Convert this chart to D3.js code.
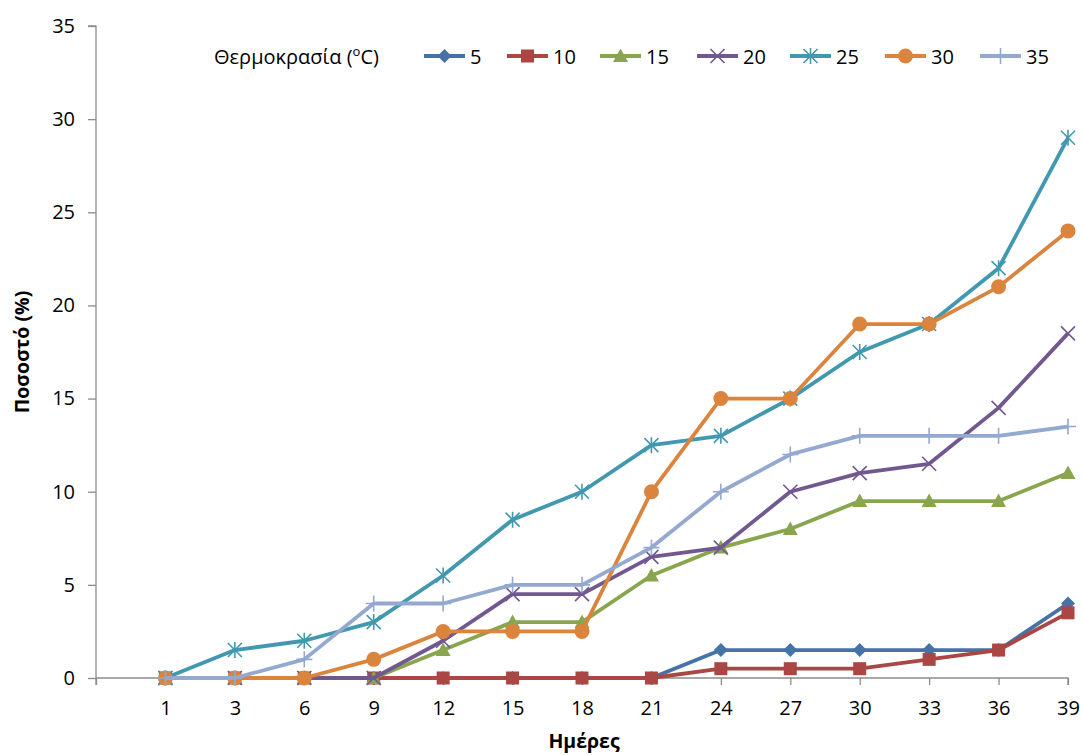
<!DOCTYPE html>
<meta charset="utf-8">
<style>
body { margin: 0; background: #fff; }
svg text { font-family: "Open Sans", "Noto Sans", sans-serif; fill: #000; }
.tick text { font-size: 20px; }
.axis-title { font-size: 19.5px; font-weight: bold; }
.legend text { font-size: 20px; }
</style>
<svg width="1083" height="755"></svg>
<script src="https://d3js.org/d3.v7.min.js"></script>
<script>

// Data
var days = ["1", "3", "6", "9", "12", "15", "18", "21", "24", "27", "30", "33", "36", "39"];
var temps = ["5", "10", "15", "20", "25", "30", "35"];

var t5  = [0, 0, 0, 0, 0, 0, 0, 0, 1.5, 1.5, 1.5, 1.5, 1.5, 4];
var t10 = [0, 0, 0, 0, 0, 0, 0, 0, 0.5, 0.5, 0.5, 1, 1.5, 3.5];
var t15 = [0, 0, 0, 0, 1.5, 3, 3, 5.5, 7, 8, 9.5, 9.5, 9.5, 11];
var t20 = [0, 0, 0, 0, 2, 4.5, 4.5, 6.5, 7, 10, 11, 11.5, 14.5, 18.5];
var t25 = [0, 1.5, 2, 3, 5.5, 8.5, 10, 12.5, 13, 15, 17.5, 19, 22, 29];
var t30 = [0, 0, 0, 1, 2.5, 2.5, 2.5, 10, 15, 15, 19, 19, 21, 24];
var t35 = [0, 0, 1, 4, 4, 5, 5, 7, 10, 12, 13, 13, 13, 13.5];

var yTicks = [0, 5, 10, 15, 20, 25, 30, 35];

var colors = ["#4572A7", "#AA4643", "#89A54E", "#71588F", "#4198AF", "#DB843D", "#93A9CF"];
var shapes = ["diamond", "square", "triangle", "x", "star", "circle", "plus"];

var series = [t5, t10, t15, t20, t25, t30, t35].map(function (vals, i) {
  return { name: temps[i], color: colors[i], shape: shapes[i],
    values: vals.map(function (v, j) { return { day: days[j], value: v }; }) };
});

var svg = d3.select("svg");

// Scales (blank first category sits on the y axis)
var x = d3.scalePoint()
    .domain([""].concat(days))
    .range([96, 1068]);

var y = d3.scaleLinear()
    .domain([0, 35])
    .range([678, 26]);

// Axes
var yAxis = svg.append("g")
    .attr("transform", "translate(96,0)")
    .call(d3.axisLeft(y).tickValues(yTicks).tickSize(8).tickPadding(13));

var xAxis = svg.append("g")
    .attr("transform", "translate(0,678)")
    .call(d3.axisBottom(x).tickSize(7).tickPadding(16));

[xAxis, yAxis].forEach(function (g) {
  g.select(".domain").attr("stroke", "#8c8c8c").attr("stroke-width", 1.3);
  g.selectAll(".tick line").attr("stroke", "#8c8c8c").attr("stroke-width", 1.3);
});
yAxis.select(".domain").attr("d", "M-8,26H0V685");
xAxis.select(".domain").attr("d", "M96,0H1068V7");

// Axis titles
svg.append("text")
    .attr("class", "axis-title")
    .attr("transform", "translate(29,352) rotate(-90)")
    .attr("text-anchor", "middle")
    .text("Ποσοστό (%)");

svg.append("text")
    .attr("class", "axis-title")
    .attr("x", 584)
    .attr("y", 748)
    .attr("text-anchor", "middle")
    .text("Ημέρες");

// Marker drawing
function drawMarker(sel, shape, color) {
  if (shape === "diamond") {
    sel.append("path").attr("d", "M0,-7L7,0L0,7L-7,0Z").attr("fill", color);
  } else if (shape === "square") {
    sel.append("rect").attr("x", -6.5).attr("y", -6.5).attr("width", 13).attr("height", 13).attr("fill", color);
  } else if (shape === "triangle") {
    sel.append("path").attr("d", "M0,-7.5L7.5,6L-7.5,6Z").attr("fill", color);
  } else if (shape === "x") {
    sel.append("path").attr("d", "M-7,-7L7,7M-7,7L7,-7").attr("stroke", color).attr("stroke-width", 1.6);
  } else if (shape === "star") {
    sel.append("path").attr("d", "M-7,-7L7,7M-7,7L7,-7M0,-8V8").attr("stroke", color).attr("stroke-width", 1.6);
  } else if (shape === "circle") {
    sel.append("circle").attr("r", 7.5).attr("fill", color);
  } else if (shape === "plus") {
    sel.append("path").attr("d", "M0,-8V8M-8,0H8").attr("stroke", color).attr("stroke-width", 1.6);
  }
}

var line = d3.line()
    .x(function (d) { return x(d.day); })
    .y(function (d) { return y(d.value); });

var plot = svg.append("g");

series.forEach(function (s) {
  var g = plot.append("g");
  g.append("path")
      .datum(s.values)
      .attr("fill", "none")
      .attr("stroke", s.color)
      .attr("stroke-width", 3.8)
      .attr("stroke-linejoin", "round")
      .attr("d", line);
  g.selectAll(".pt")
    .data(s.values)
    .join("g")
      .attr("class", "pt")
      .attr("transform", function (d) { return "translate(" + x(d.day) + "," + y(d.value) + ")"; })
      .each(function () { drawMarker(d3.select(this), s.shape, s.color); });
});

// Legend
var legend = svg.append("g").attr("class", "legend");

var legendTitle = legend.append("text")
    .attr("x", 214)
    .attr("y", 64);
legendTitle.append("tspan").text("Θερμοκρασία (");
legendTitle.append("tspan").attr("font-size", "13px").attr("dy", -8).text("o");
legendTitle.append("tspan").attr("dy", 8).text("C)");

var legendX = [424, 507, 600, 697, 790, 885, 980];

series.forEach(function (s, i) {
  var item = legend.append("g").attr("transform", "translate(" + legendX[i] + ",56)");
  item.append("line")
      .attr("x1", 0).attr("x2", 41)
      .attr("stroke", s.color).attr("stroke-width", 3.8);
  drawMarker(item.append("g").attr("transform", "translate(20.5,0)"), s.shape, s.color);
  item.append("text")
      .attr("x", 46)
      .attr("y", 8)
      .text(s.name);
});

</script>
